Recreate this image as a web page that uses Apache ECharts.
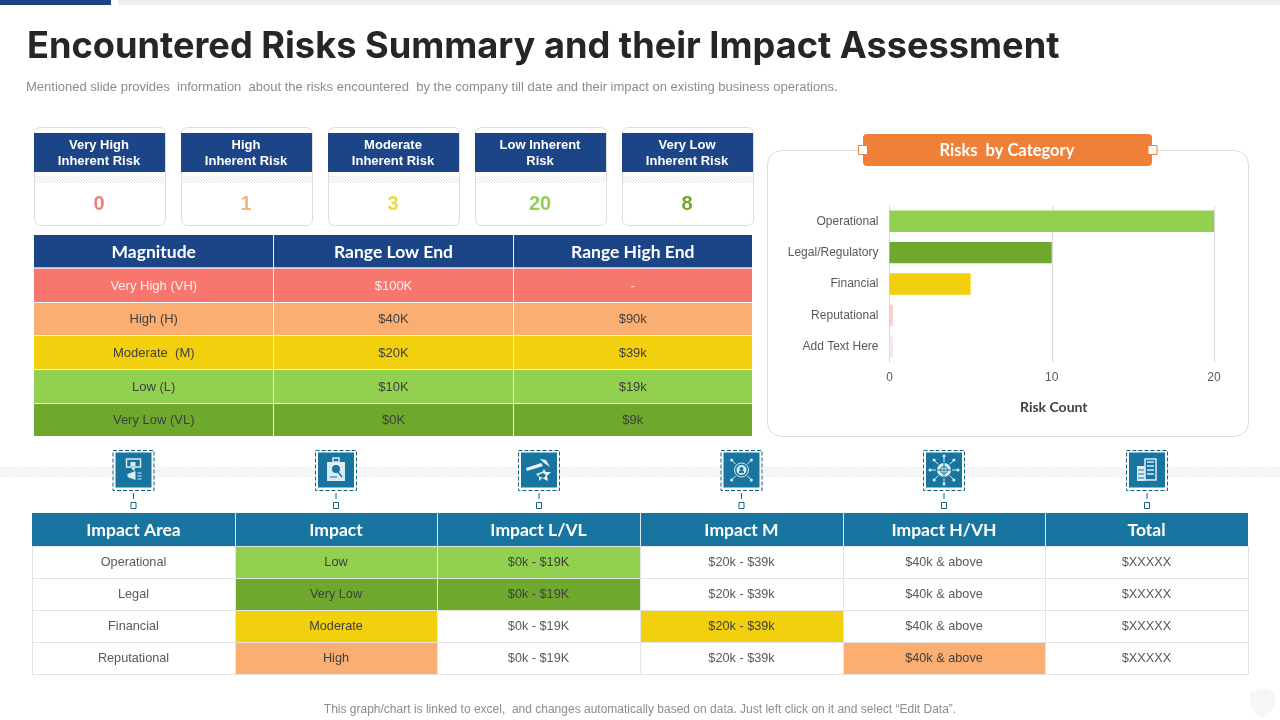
<!DOCTYPE html>
<html>
<head>
<meta charset="utf-8">
<title>Encountered Risks Summary</title>
<style>
  html, body { margin: 0; padding: 0; background: #fff; }
  #main { width: 1280px; height: 720px; }
</style>
</head>
<body>
<div id="main"></div>
<script src="https://cdn.jsdelivr.net/npm/echarts@6/dist/echarts.min.js"></script>
<script>
// ---- data ----
var pageTitle = 'Encountered Risks Summary and their Impact Assessment';
var pageSubtitle = 'Mentioned slide provides  information  about the risks encountered  by the company till date and their impact on existing business operations.';
var pageFooter = 'This graph/chart is linked to excel,  and changes automatically based on data. Just left click on it and select \u201cEdit Data\u201d.';

var kpiLabels = [['Very High', 'Inherent Risk'], ['High', 'Inherent Risk'], ['Moderate', 'Inherent Risk'], ['Low Inherent', 'Risk'], ['Very Low', 'Inherent Risk']];
var kpiValues = [0, 1, 3, 20, 8];

var magnitudeHeader = ['Magnitude', 'Range Low End', 'Range High End'];
var magnitudeNames = ['Very High (VH)', 'High (H)', 'Moderate  (M)', 'Low (L)', 'Very Low (VL)'];
var rangeLowEnd = ['$100K', '$40K', '$20K', '$10K', '$0K'];
var rangeHighEnd = ['-', '$90k', '$39k', '$19k', '$9k'];

var chartTitle = 'Risks  by Category';
var riskCategories = ['Operational', 'Legal/Regulatory', 'Financial', 'Reputational', 'Add Text Here'];
var riskCounts = [20, 10, 5, 0.2, 0.2];
var axisName = 'Risk Count';

var impactHeader = ['Impact Area', 'Impact', 'Impact L/VL', 'Impact M', 'Impact H/VH', 'Total'];
var impactAreas = ['Operational', 'Legal', 'Financial', 'Reputational'];
var impactLevels = ['Low', 'Very Low', 'Moderate', 'High'];
var impactLowRange = ['$0k - $19K', '$0k - $19K', '$0k - $19K', '$0k - $19K'];
var impactMidRange = ['$20k - $39k', '$20k - $39k', '$20k - $39k', '$20k - $39k'];
var impactHighRange = ['$40k & above', '$40k & above', '$40k & above', '$40k & above'];
var impactTotals = ['$XXXXX', '$XXXXX', '$XXXXX', '$XXXXX'];
var highlightedColumn = [2, 2, 3, 4];

// ---- colours ----
var NAVY = '#1b4587', TEAL = '#17759f', ORANGE = '#f07f38';
var levelFills = ['#f7776e', '#fbae72', '#f2d00e', '#92d050', '#6ea82c'];
var kpiColors = ['#e8837b', '#f3b77f', '#eed83a', '#92d050', '#6ea82c'];
var barColors = ['#92d050', '#6ea82c', '#f2d00e', '#f7cdcd', '#fae3e3'];
var impactFills = ['#92d050', '#6ea82c', '#f2d00e', '#fbae72'];

var TITLE_FONT = 'Inter, Lato, sans-serif';
var HEAD_FONT = 'Lato, "Open Sans", sans-serif';
var BODY_FONT = '"Liberation Sans", Arial, sans-serif';

// diagonal hatch used by the strips
function hatch() {
    var c = document.createElement('canvas');
    c.width = 3; c.height = 3;
    var g = c.getContext('2d');
    g.strokeStyle = '#e2e2e2';
    g.lineWidth = 1;
    g.beginPath();
    g.moveTo(0, 0); g.lineTo(3, 3);
    g.moveTo(-1, 2); g.lineTo(1, 4);
    g.moveTo(2, -1); g.lineTo(4, 1);
    g.stroke();
    return { image: c, repeat: 'repeat' };
}
var hatchFill = hatch();

var els = [];
function rect(x, y, w, h, fill, stroke, r, lw, dash) {
    els.push({
        type: 'rect', silent: true,
        shape: { x: x, y: y, width: w, height: h, r: r || 0 },
        style: { fill: fill || 'none', stroke: stroke || 'none', lineWidth: lw || 1, lineDash: dash || null }
    });
}
function line(x1, y1, x2, y2, stroke, lw, dash) {
    els.push({
        type: 'line', silent: true,
        shape: { x1: x1, y1: y1, x2: x2, y2: y2 },
        style: { stroke: stroke, lineWidth: lw || 1, lineDash: dash || null }
    });
}
function circle(cx, cy, r, fill, stroke, lw) {
    els.push({
        type: 'circle', silent: true,
        shape: { cx: cx, cy: cy, r: r },
        style: { fill: fill || 'none', stroke: stroke || 'none', lineWidth: lw || 1 }
    });
}
function poly(points, fill) {
    els.push({ type: 'polygon', silent: true, shape: { points: points }, style: { fill: fill } });
}
function text(str, x, y, size, color, weight, family, align) {
    els.push({
        type: 'text', silent: true, z: 10,
        style: {
            text: String(str), x: x, y: y,
            fill: color,
            fontSize: size, fontWeight: weight || 'normal', fontFamily: family || BODY_FONT,
            align: align || 'center', verticalAlign: 'middle'
        }
    });
}

// top strip, title
rect(0, 0, 111, 5, NAVY);
rect(118, 0, 1162, 5, '#efefef');
text(pageTitle, 27, 47, 36.2, '#262626', 'bold', TITLE_FONT, 'left');
text(pageSubtitle, 26, 87, 13, '#8c8c8c', 'normal', BODY_FONT, 'left');

// KPI cards
var cardX = [34, 181, 328, 475, 622];
kpiLabels.forEach(function (lab, i) {
    var x = cardX[i];
    rect(x + 0.5, 127.5, 131, 98, '#fff', '#dcdcdc', 6);
    rect(x, 133, 131, 39, NAVY);
    rect(x + 0.5, 176, 130, 7, hatchFill);
    text(lab[0], x + 65, 145, 13, '#fff', 'bold');
    text(lab[1], x + 65, 161, 13, '#fff', 'bold');
    text(kpiValues[i], x + 65, 204, 20, kpiColors[i], 'bold');
});

// magnitude table
var magCols = [34, 273.5, 513.5, 752];
var magRows = [268, 302, 335, 369, 403, 436];
rect(34, 235, 718, 33, NAVY);
magnitudeHeader.forEach(function (h, c) {
    text(h, (magCols[c] + magCols[c + 1]) / 2, 252.5, 17.5, '#fff', 'bold', HEAD_FONT);
});
magnitudeNames.forEach(function (name, r) {
    var cells = [name, rangeLowEnd[r], rangeHighEnd[r]];
    rect(34, magRows[r], 718, magRows[r + 1] - magRows[r], levelFills[r]);
    cells.forEach(function (v, c) {
        text(v, (magCols[c] + magCols[c + 1]) / 2, (magRows[r] + magRows[r + 1]) / 2 + 1, 13, r === 0 ? '#fdeeee' : '#404040');
    });
    if (r > 0) line(34, magRows[r] + 0.5, 752, magRows[r] + 0.5, '#f4f4f4');
});
line(34, 268, 752, 268, '#dfe6f2', 1.5);
line(273.5, 235, 273.5, 436, '#f0f0f0');
line(513.5, 235, 513.5, 436, '#f0f0f0');

// chart panel
rect(767.5, 150.5, 481, 286, 'none', '#dddddd', 14);
rect(863, 134, 289, 32, ORANGE, null, 4);
rect(858.5, 145.5, 9, 9, '#fff', ORANGE);
rect(1148, 145.5, 9, 9, '#fff', ORANGE);
text(chartTitle, 1007, 151, 16.5, '#fff', 'bold', HEAD_FONT);

// hatch band and icon tiles
rect(0, 467, 1280, 10, hatchFill);
var iconX = [133.5, 336, 539, 741.5, 944, 1147];
function iconSlide(x, y) {
    rect(x - 7, y - 11, 14, 8, null, '#dcebf2', 0, 1.5);
    rect(x - 3, y - 8, 5, 4, '#dcebf2');
    poly([[x - 2, y - 2], [x + 2, y - 2], [x, y + 1]], '#dcebf2');
    poly([[x - 6, y + 4], [x + 2, y + 1], [x + 2, y + 10], [x - 6, y + 7]], '#dcebf2');
    line(x + 4, y + 3, x + 8, y + 3, '#dcebf2');
    line(x + 4, y + 6, x + 8, y + 6, '#dcebf2');
    line(x + 4, y + 9, x + 8, y + 9, '#dcebf2');
}
function iconCase(x, y) {
    rect(x - 3, y - 12, 6, 4, null, '#dcebf2', 0, 1.5);
    rect(x - 9, y - 8, 18, 19, '#dcebf2');
    circle(x, y - 1, 4, TEAL);
    line(x + 2, y + 2, x + 6, y + 7, TEAL, 1.5);
    line(x - 6, y + 7, x + 1, y + 7, TEAL);
}
function iconHammer(x, y) {
    poly([[x - 13, y - 2], [x + 2, y - 7], [x + 4, y - 4], [x - 12, y + 1]], '#eef6fa');
    poly([[x + 1, y - 11], [x + 7, y - 10], [x + 11, y - 3], [x + 5, y - 7]], '#eef6fa');
    poly([[x - 3, y + 4], [x + 3, y + 2], [x + 5, y - 1], [x + 7, y + 2], [x + 12, y + 2], [x + 8, y + 6], [x + 9, y + 11], [x + 3, y + 8], [x, y + 11], [x, y + 7]], '#eef6fa');
    poly([[x - 1, y + 5], [x + 4, y + 3], [x + 7, y + 5], [x + 5, y + 8], [x + 1, y + 7]], TEAL);
}
function spokes(x, y, r1, r2, n) {
    for (var i = 0; i < n; i++) {
        var a = Math.PI * 2 * i / n + Math.PI / 4;
        line(x + Math.cos(a) * r1, y + Math.sin(a) * r1, x + Math.cos(a) * r2, y + Math.sin(a) * r2, '#dcebf2');
        circle(x + Math.cos(a) * r2, y + Math.sin(a) * r2, 1.5, '#dcebf2');
    }
}
function iconTarget(x, y) {
    spokes(x, y, 8, 14, 4);
    circle(x, y, 7, null, '#dcebf2', 1);
    circle(x, y, 5, '#dcebf2');
    circle(x, y - 1, 2, TEAL);
    rect(x - 2.5, y + 1, 5, 2, TEAL);
}
function iconGlobe(x, y) {
    spokes(x, y, 8, 14, 8);
    circle(x, y, 7, '#dcebf2');
    line(x - 7, y, x + 7, y, TEAL);
    line(x, y - 7, x, y + 7, TEAL);
    circle(x, y, 3.5, null, TEAL);
}
function iconCity(x, y) {
    rect(x - 10, y - 4, 8, 15, '#dcebf2');
    rect(x - 2, y - 11, 11, 21, null, '#dcebf2', 0, 1.5);
    [-8, -4, 0, 4].forEach(function (d) {
        line(x, y + d, x + 7, y + d, '#dcebf2', 1.5);
    });
    [0, 4, 8].forEach(function (d) {
        line(x - 9, y + d, x - 3, y + d, TEAL);
    });
}
var iconDrawers = [iconSlide, iconCase, iconHammer, iconTarget, iconGlobe, iconCity];
iconX.forEach(function (x, i) {
    rect(x - 20.5, 450.5, 41, 40, '#fff', '#17607f', 0, 1, [4, 2]);
    rect(x - 18, 452.5, 36, 35, TEAL);
    iconDrawers[i](x, 470);
    line(x, 493, x, 499, '#17607f', 1);
    rect(x - 2.5, 502.5, 5, 6, '#fff', '#17607f');
});

// impact table
var impCols = [32, 235, 437, 640, 843, 1045, 1248];
var impRows = [546, 578, 610, 642, 674];
rect(32, 513, 1216, 33, TEAL);
impactHeader.forEach(function (h, c) {
    text(h, (impCols[c] + impCols[c + 1]) / 2, 530.5, 17.5, '#fff', 'bold', HEAD_FONT);
});
impactAreas.forEach(function (area, r) {
    var cells = [area, impactLevels[r], impactLowRange[r], impactMidRange[r], impactHighRange[r], impactTotals[r]];
    var y0 = impRows[r], y1 = impRows[r + 1];
    rect(impCols[1], y0, impCols[2] - impCols[1], y1 - y0, impactFills[r]);
    var hc = highlightedColumn[r];
    rect(impCols[hc], y0, impCols[hc + 1] - impCols[hc], y1 - y0, impactFills[r]);
    cells.forEach(function (v, c) {
        var filled = c === 1 || c === hc;
        text(v, (impCols[c] + impCols[c + 1]) / 2, (y0 + y1) / 2 + 0.5, 12.7, filled ? '#404040' : '#595959');
    });
});
impRows.forEach(function (y) { line(32, y + 0.5, 1248, y + 0.5, '#e2e2e2'); });
impCols.forEach(function (x, c) {
    line(x + 0.5, c === 0 || c === 6 ? 546 : 513, x + 0.5, 674, c === 0 || c === 6 ? '#e2e2e2' : '#e2e6ea');
});

// footer, shield
text(pageFooter, 640, 709.5, 12, '#8c8c8c');
poly([[1262, 688], [1275, 692], [1275, 704], [1270, 712], [1262, 718], [1254, 712], [1250, 704], [1250, 692]], '#f6f6f6');

// ---- bar chart ----
var option = {
    animation: false,
    textStyle: { fontFamily: BODY_FONT },
    graphic: { elements: els },
    grid: { left: 889.5, right: 66, top: 205.5, height: 157, containLabel: false },
    xAxis: {
        type: 'value', min: 0, max: 20, interval: 10,
        axisLine: { show: false }, axisTick: { show: false },
        splitLine: { lineStyle: { color: '#d9d9d9' } },
        axisLabel: { color: '#595959', fontSize: 12, margin: 9 },
        name: axisName, nameLocation: 'middle', nameGap: 38,
        nameTextStyle: { color: '#404040', fontSize: 14, fontWeight: 'bold', fontFamily: HEAD_FONT, padding: [0, 0, 0, 4] }
    },
    yAxis: {
        type: 'category', inverse: true, data: riskCategories,
        axisLine: { lineStyle: { color: '#d9d9d9' } }, axisTick: { show: false },
        axisLabel: { color: '#595959', fontSize: 12, margin: 11 }
    },
    series: [{
        type: 'bar', barWidth: '68%', silent: true,
        data: riskCounts.map(function (v, i) {
            return { value: v, itemStyle: { color: barColors[i] } };
        })
    }]
};
echarts.init(document.getElementById('main')).setOption(option);
</script>
</body>
</html>
